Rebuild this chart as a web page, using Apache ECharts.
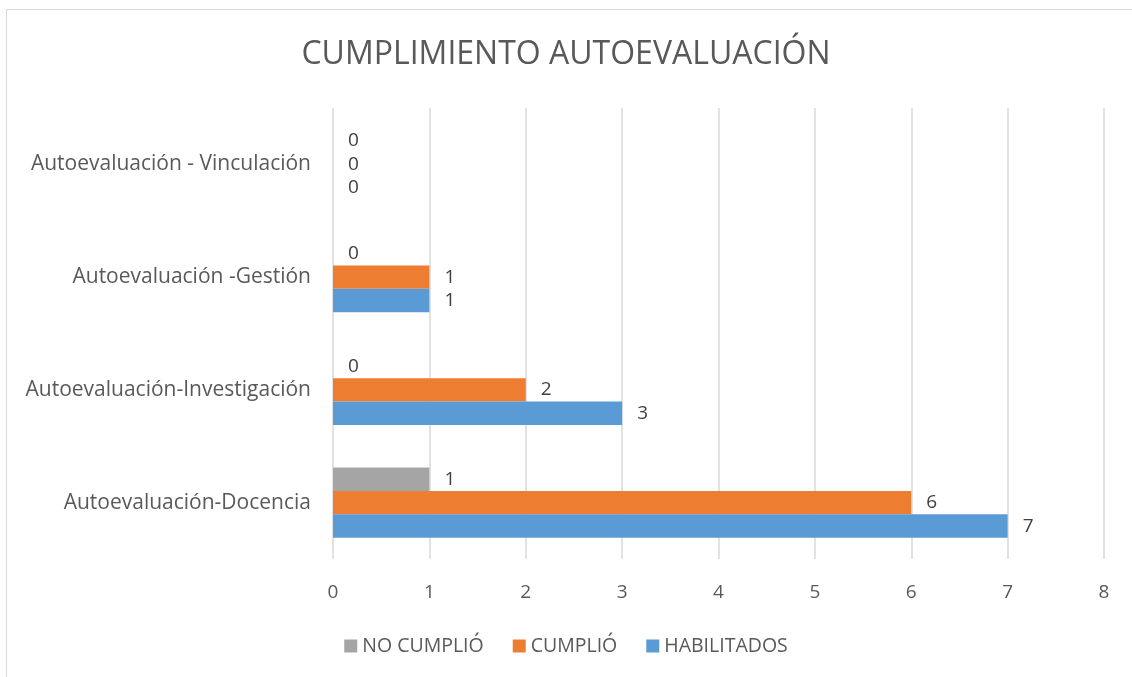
<!DOCTYPE html>
<html><head><meta charset="utf-8">
<script src="https://cdn.jsdelivr.net/npm/echarts@6/dist/echarts.min.js"></script>
<style>html,body{margin:0;padding:0;background:#fff}#c{width:1132px;height:677px}</style>
</head><body><div id="c"></div>
<script>
const categories = ['Autoevaluación-Docencia','Autoevaluación-Investigación','Autoevaluación -Gestión','Autoevaluación - Vinculación'];
const habilitados = [7, 3, 1, 0];
const cumplio = [6, 2, 1, 0];
const noCumplio = [1, 0, 0, 0];
const legendNames = ['NO CUMPLIÓ','CUMPLIÓ','HABILITADOS'];
const FONT = '"Open Sans", "Liberation Sans", sans-serif';
const chart = echarts.init(document.getElementById('c'));
const lbl = {show:true, position:'right', distance:15, color:'#404040', fontSize:19, fontFamily:FONT};
chart.setOption({
  animation:false,
  graphic:[{type:'rect', shape:{x:6.5,y:9.5,width:1140,height:700}, style:{fill:'none', stroke:'#d9d9d9', lineWidth:1}, silent:true}],
  title:{text:'CUMPLIMIENTO AUTOEVALUACIÓN', left:'center', top:34, textStyle:{color:'#595959', fontSize:32, fontWeight:'normal', fontFamily:FONT}},
  legend:{data:legendNames, bottom:16, left:'center', itemWidth:13, itemHeight:13, itemGap:29, icon:'rect',
    textStyle:{color:'#595959', fontSize:19.5, fontFamily:FONT}},
  grid:{left:333, right:28, top:108, bottom:118, containLabel:false},
  xAxis:{type:'value', min:0, max:8, interval:1,
    axisLine:{show:false}, axisTick:{show:false},
    splitLine:{show:true, lineStyle:{color:'#d9d9d9', width:1.5}},
    axisLabel:{color:'#595959', fontSize:19, fontFamily:FONT, margin:24}},
  yAxis:{type:'category', data:categories,
    axisLine:{show:false}, axisTick:{show:false},
    axisLabel:{color:'#595959', fontSize:21, fontFamily:FONT, margin:22}},
  series:[
    {name:'NO CUMPLIÓ', type:'bar', data:noCumplio, itemStyle:{color:'#a5a5a5'}, barGap:'0%', barCategoryGap:'37.5%', label:lbl},
    {name:'CUMPLIÓ', type:'bar', data:cumplio, itemStyle:{color:'#ed7d31'}, barGap:'0%', barCategoryGap:'37.5%', label:lbl},
    {name:'HABILITADOS', type:'bar', data:habilitados, itemStyle:{color:'#5b9bd5'}, barGap:'0%', barCategoryGap:'37.5%', label:lbl}
  ]
});
</script></body></html>
